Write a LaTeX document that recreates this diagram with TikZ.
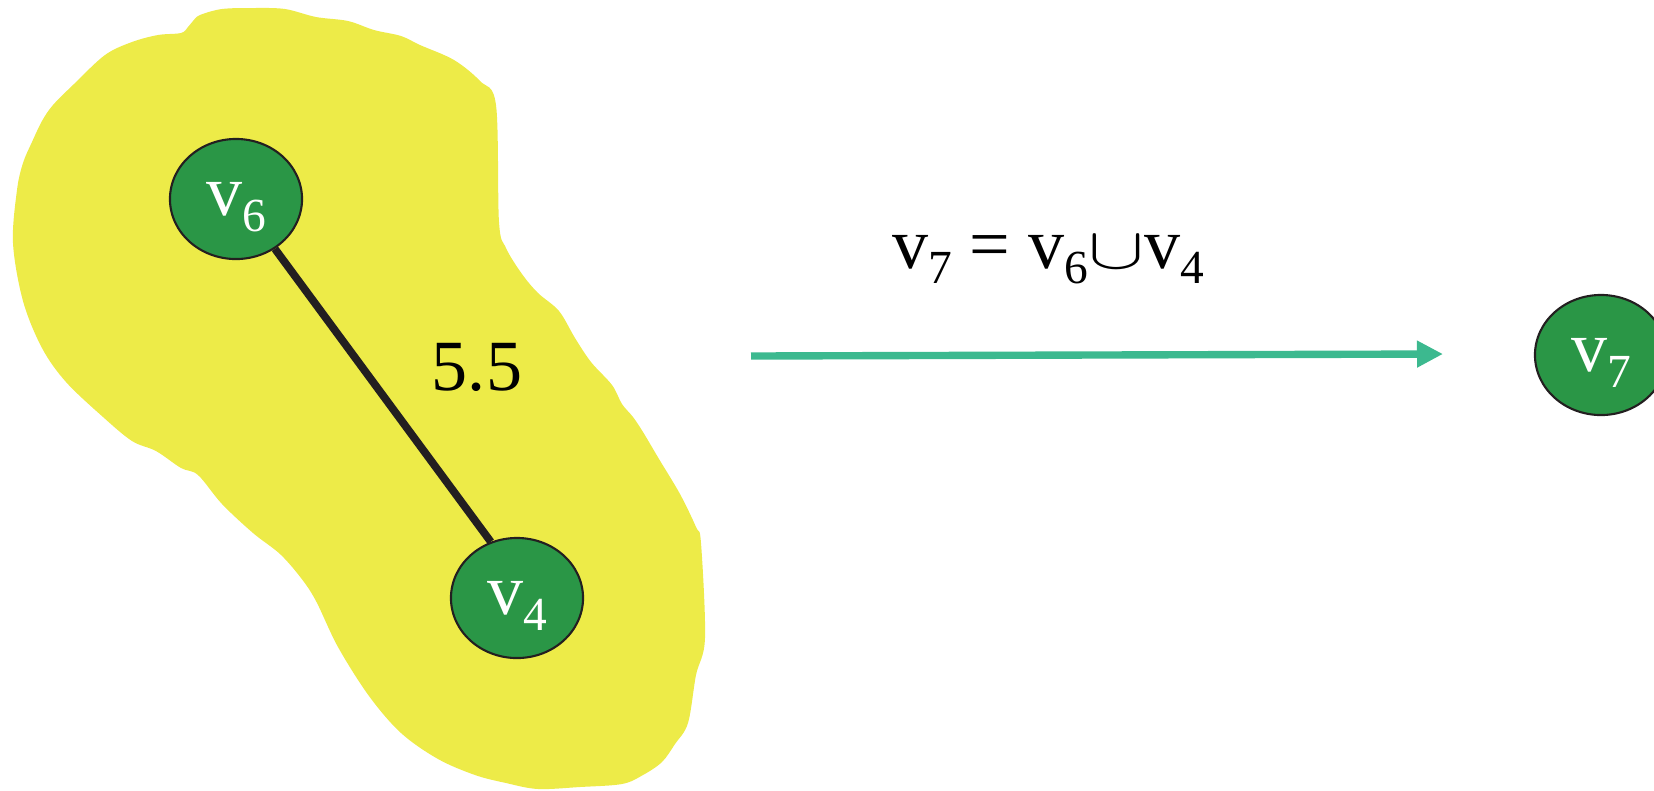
\documentclass[tikz,border=0pt]{standalone}
\usepackage{fontspec}
\setmainfont{Liberation Serif}
\usetikzlibrary{arrows.meta,positioning,shapes.geometric}
\definecolor{blob}{HTML}{EDEB48}
\definecolor{leaf}{HTML}{2A9646}
\definecolor{ink}{HTML}{231F20}
\definecolor{sea}{HTML}{3CB98F}
\newcommand{\vx}[1]{v\raisebox{-4.3pt}{\fontsize{13.5}{14}\selectfont #1}}

\begin{document}
\begin{tikzpicture}[x=0.01cm,y=-0.01cm,
  vert/.style={ellipse, draw=ink, line width=0.6pt, fill=leaf, text=white, minimum width=1.32cm, minimum height=1.2cm, inner sep=0pt, text height=14pt, text depth=4.4pt, font=\fontsize{20.5}{24}\selectfont},
  big/.style={font=\fontsize{20.5}{24}\selectfont, text=black},
  >={Triangle[length=7.4pt,width=7.2pt]}]
\useasboundingbox (0,0) rectangle (1654,790);
\fill[blob] plot[smooth cycle,tension=0.55] coordinates {
  (193,21) (200,15) (222,9) (253,8) (285,9) (316,17) (348,21) (374,30) (401,36) (420,45)
  (454,60) (480,81) (496,105) (499,222) (506,248) (522,274) (538,293) (559,311) (575,338)
  (591,362) (612,385) (622,404) (633,417) (643,432) (659,459) (680,494) (696,527) (701,543)
  (705,638) (696,675) (688,723) (675,744) (662,762) (643,775) (622,784) (580,787) (538,789)
  (506,783) (475,775) (438,759) (401,733) (369,696) (338,647) (316,601) (301,578) (280,554)
  (253,533) (222,504) (198,475) (181,468) (156,451) (132,441) (103,417) (66,382) (42,348)
  (23,301) (13,243) (17,190) (23,163) (32,142) (42,121) (53,105) (74,84) (105,55) (132,42)
  (158,35) (181,33) (188,27)};
\node[vert] (v6) at (236,199) {\vx{6}};
\node[vert] (v4) at (517,598) {\vx{4}};
\node[vert] (v7) at (1601,355) {\vx{7}};
\draw[ink,line width=2.2pt] (v6.-52) -- (v4.115);
\node[big,anchor=base] (w) at (477,390) {5.5};
\coordinate (a0) at (751,356);
\coordinate (a1) at (1443,354);
\draw[->,sea,line width=2.1pt] (a0) -- (a1);
\node[big,anchor=base] (merge) at (1048,268) {\vx{7} = \vx{6}\scalebox{1.15}[0.8]{$\cup$}\vx{4}};
\end{tikzpicture}
\end{document}
